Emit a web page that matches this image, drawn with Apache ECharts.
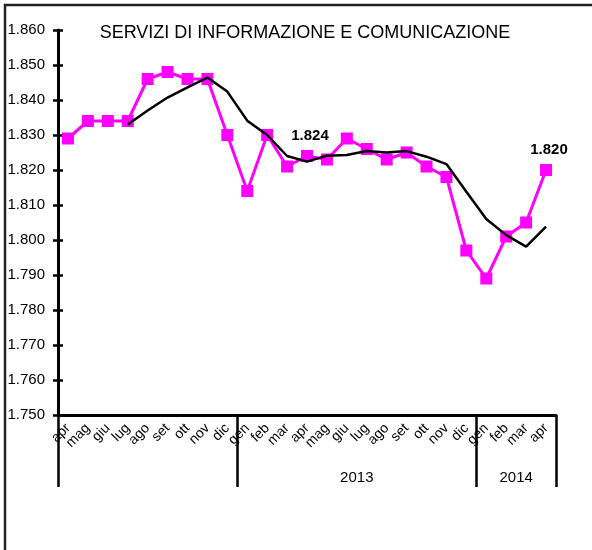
<!DOCTYPE html>
<html>
<head>
<meta charset="utf-8">
<title>Servizi di informazione e comunicazione</title>
<script src="https://cdn.jsdelivr.net/npm/echarts@6/dist/echarts.min.js"></script>
<style>
    html, body { margin: 0; padding: 0; background: #fff; }
    #main { width: 592px; height: 550px; }
</style>
</head>
<body>
<div id="main"></div>
<script>
// mesi (apr 2012 - apr 2014)
var months = ['apr','mag','giu','lug','ago','set','ott','nov','dic',
    'gen','feb','mar','apr','mag','giu','lug','ago','set','ott','nov','dic',
    'gen','feb','mar','apr'];
// anni e numero di mesi per anno
var years = ['2012', '2013', '2014'];
var yearMonths = [9, 12, 4];
var yearShown = [false, true, true];
// valori mensili (migliaia)
var monthly = [1829, 1834, 1834, 1834, 1846, 1848, 1846, 1846, 1830,
    1814, 1830, 1821, 1824, 1823, 1829, 1826, 1823, 1825, 1821, 1818, 1797,
    1789, 1801, 1805, 1820];
// media mobile
var trend = [null, null, null, 1833, 1837, 1840.7, 1843.6, 1846.4, 1842.4,
    1834.1, 1830, 1824, 1822.4, 1824.1, 1824.3, 1825.4, 1825, 1825.4, 1823.8, 1821.7, 1813.8,
    1806, 1801.4, 1798.1, 1803.8];
// punti con etichetta
var labeled = [12, 24];
// asse y
var yMin = 1750, yMax = 1860, yStep = 10;

var font = 'Liberation Sans, Arial, sans-serif';

function fmt(v) {
    return (v / 1000).toFixed(3);
}

// confini tra anni e posizione etichette anno
var bounds = [0], yearPos = [], yearText = {};
var acc = 0;
for (var i = 0; i < years.length; i++) {
    var mid = acc + yearMonths[i] / 2;
    acc += yearMonths[i];
    bounds.push(acc);
    if (yearShown[i]) {
        yearPos.push(mid);
        yearText[mid] = years[i];
    }
}

var monthlyData = monthly.map(function (v, i) {
    if (labeled.indexOf(i) >= 0) {
        return {value: v, label: {show: true}};
    }
    return v;
});

var mchart = echarts.init(document.getElementById('main'));
var option = {
    animation: false,
    textStyle: {fontFamily: font},
    title: {
        text: 'SERVIZI DI INFORMAZIONE E COMUNICAZIONE',
        left: 300,
        textAlign: 'center',
        top: 19,
        textStyle: {fontSize: 18, fontWeight: 'normal', color: '#000', fontFamily: font}
    },
    graphic: [{
        type: 'rect',
        shape: {x: 5, y: 5, width: 700, height: 700},
        style: {fill: null, stroke: '#222', lineWidth: 2.5}
    }],
    grid: {left: 58, right: 36, top: 30, bottom: 135},
    xAxis: [{
        type: 'category',
        data: months,
        boundaryGap: true,
        axisLine: {lineStyle: {color: '#000', width: 3}},
        axisTick: {show: false},
        axisLabel: {
            interval: 0,
            rotate: 45,
            margin: 11,
            fontSize: 14,
            color: '#000',
            fontFamily: font
        },
        splitLine: {show: false}
    }, {
        // separatori e etichette anno
        type: 'value',
        position: 'bottom',
        min: 0,
        max: months.length,
        axisLine: {show: false},
        axisTick: {
            show: true,
            customValues: bounds,
            length: 72,
            lineStyle: {color: '#000', width: 2.5}
        },
        axisLabel: {
            customValues: yearPos,
            margin: 55,
            fontSize: 15,
            color: '#000',
            fontFamily: font,
            formatter: function (v) { return yearText[v] || ''; }
        },
        splitLine: {show: false}
    }],
    yAxis: [{
        type: 'value',
        min: yMin,
        max: yMax,
        interval: yStep,
        axisLine: {show: true, lineStyle: {color: '#000', width: 3}},
        axisTick: {show: true, length: 5, lineStyle: {color: '#000', width: 2.5}},
        axisLabel: {
            margin: 13,
            fontSize: 15,
            color: '#000',
            fontFamily: font,
            formatter: fmt
        },
        splitLine: {show: false}
    }, {
        // tacche interne
        type: 'value',
        position: 'left',
        min: yMin,
        max: yMax,
        interval: yStep,
        axisLine: {show: false},
        axisTick: {show: true, inside: true, length: 5, lineStyle: {color: '#000', width: 2.5}},
        axisLabel: {show: false},
        splitLine: {show: false}
    }],
    series: [{
        name: 'mensile',
        type: 'line',
        data: monthlyData,
        symbol: 'rect',
        symbolSize: 12,
        lineStyle: {color: '#FF00FF', width: 3},
        itemStyle: {color: '#FF00FF'},
        label: {
            show: false,
            position: 'top',
            distance: 7,
            offset: [3, 0],
            fontSize: 15,
            fontWeight: 'bold',
            color: '#000',
            fontFamily: font,
            formatter: function (p) { return fmt(p.value); }
        },
        z: 2
    }, {
        name: 'media',
        type: 'line',
        data: trend,
        symbol: 'none',
        lineStyle: {color: '#000', width: 2.5},
        itemStyle: {color: '#000'},
        z: 3
    }]
};
mchart.setOption(option);
</script>
</body>
</html>
